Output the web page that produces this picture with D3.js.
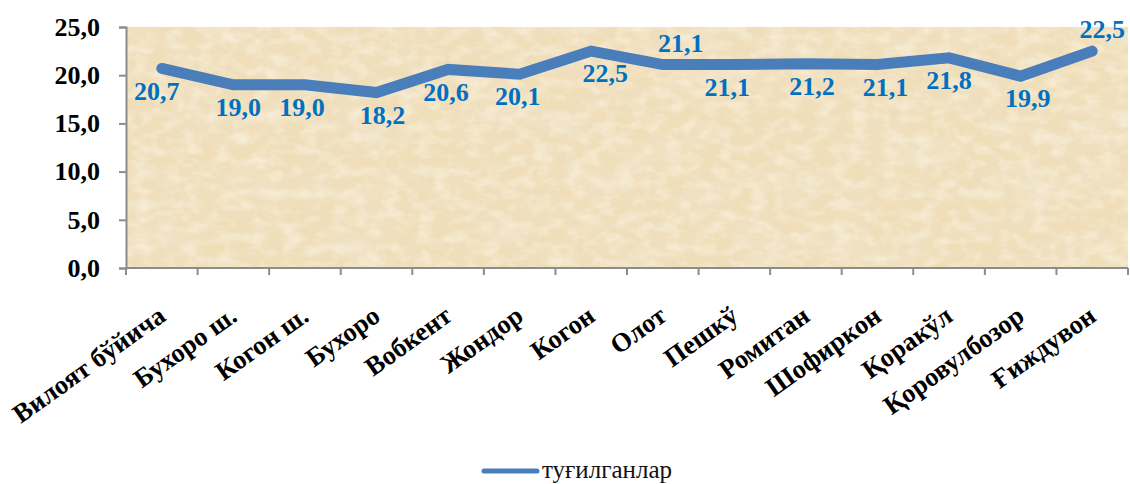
<!DOCTYPE html>
<html>
<head>
<meta charset="utf-8">
<script src="https://cdn.jsdelivr.net/npm/d3@7"></script>
<style>
    body { margin: 0; background: #fff; }
    svg { display: block; }
    .serif { font-family: "Liberation Serif"; }
</style>
</head>
<body>
<svg id="line-chart" width="1130" height="484"></svg>
<script>
// Categories (districts) and series values
const categories = ["Вилоят бўйича", "Бухоро ш.", "Когон ш.", "Бухоро", "Вобкент", "Жондор", "Когон",
                    "Олот", "Пешкў", "Ромитан", "Шофиркон", "Қоракўл", "Қоровулбозор", "Ғиждувон"];
const births = [20.7, 19.0, 19.0, 18.2, 20.6, 20.1, 22.5, 21.1, 21.1, 21.2, 21.1, 21.8, 19.9, 22.5];
const yTicks = [0, 5, 10, 15, 20, 25];
const seriesName = "туғилганлар";
// Where each value label sits relative to its point
const labelSide = ["below", "below", "below", "below", "below", "below", "below",
                   "above", "below", "below", "below", "below", "below", "above"];

// Layout
const plot = { left: 126, right: 1128, top: 27, bottom: 268 };
const labelNudge = [-5, 5, -3, 6, -2, -2, 14, 18, -7, 6, 8, 0, 7, 10];
const lineColor = "#4a7ebb";

const svg = d3.select("#line-chart");

const x = d3.scaleBand()
    .domain(categories)
    .range([plot.left, plot.right]);

const y = d3.scaleLinear()
    .domain([0, 25])
    .range([plot.bottom, plot.top]);

const fmt = v => d3.format(".1f")(v).replace(".", ",");

// Parchment texture for the plot area
const defs = svg.append("defs");
const filter = defs.append("filter")
    .attr("id", "parchment")
    .attr("x", 0).attr("y", 0).attr("width", 1).attr("height", 1);
filter.append("feTurbulence")
    .attr("type", "fractalNoise")
    .attr("baseFrequency", "0.015 0.03")
    .attr("numOctaves", 5)
    .attr("seed", 7)
    .attr("result", "noise");
filter.append("feColorMatrix")
    .attr("in", "noise")
    .attr("type", "matrix")
    .attr("values", "0 0 0 0 0.87  0 0 0 0 0.78  0 0 0 0 0.60  1.4 0 0 0 -0.58")
    .attr("result", "dark");
filter.append("feTurbulence")
    .attr("type", "fractalNoise")
    .attr("baseFrequency", "0.06 0.09")
    .attr("numOctaves", 3)
    .attr("seed", 3)
    .attr("result", "noise2");
filter.append("feColorMatrix")
    .attr("in", "noise2")
    .attr("type", "matrix")
    .attr("values", "0 0 0 0 0.97  0 0 0 0 0.92  0 0 0 0 0.80  0 1.2 0 0 -0.5")
    .attr("result", "light");
filter.append("feFlood").attr("flood-color", "#f0deb9").attr("result", "base");
const merge = filter.append("feMerge");
merge.append("feMergeNode").attr("in", "base");
merge.append("feMergeNode").attr("in", "dark");
merge.append("feMergeNode").attr("in", "light");

svg.append("rect")
    .attr("x", plot.left)
    .attr("y", plot.top)
    .attr("width", plot.right - plot.left)
    .attr("height", plot.bottom - plot.top)
    .attr("fill", "#f0deb9")
    .attr("filter", "url(#parchment)");

// Y axis
svg.append("g")
    .attr("class", "y-axis")
    .attr("transform", `translate(${plot.left},0)`)
    .call(d3.axisLeft(y).tickValues(yTicks).tickFormat(fmt).tickSize(7).tickPadding(19))
    .call(g => g.select(".domain").attr("stroke", "#8c8c8c").attr("stroke-width", 2))
    .call(g => g.selectAll(".tick line").attr("stroke", "#8c8c8c").attr("stroke-width", 2))
    .call(g => g.selectAll("text")
        .attr("class", "serif")
        .style("font-family", "Liberation Serif")
        .style("font-size", "26px")
        .style("font-weight", "bold")
        .attr("fill", "#000"));

// X axis: ticks between categories
const xAxis = svg.append("g")
    .attr("class", "x-axis")
    .attr("transform", `translate(0,${plot.bottom})`);

xAxis.append("line")
    .attr("x1", plot.left).attr("x2", plot.right)
    .attr("stroke", "#8c8c8c").attr("stroke-width", 2);

xAxis.selectAll(".tick-mark")
    .data(categories.concat([null]))
    .enter().append("line")
    .attr("class", "tick-mark")
    .attr("x1", (d, i) => i < categories.length ? x(d) : plot.right)
    .attr("x2", (d, i) => i < categories.length ? x(d) : plot.right)
    .attr("y1", 0).attr("y2", 7)
    .attr("stroke", "#8c8c8c").attr("stroke-width", 2);

xAxis.selectAll(".cat-label")
    .data(categories)
    .enter().append("text")
    .attr("class", "cat-label serif")
    .attr("transform", d => `translate(${x(d) + x.bandwidth() / 2},${44}) rotate(-35.5)`)
    .attr("text-anchor", "end")
    .attr("dy", "0.35em")
    .style("font-family", "Liberation Serif")
    .style("font-size", "26.5px")
    .style("font-weight", "bold")
    .attr("fill", "#000")
    .text(d => d);

// Line
const line = d3.line()
    .x((d, i) => x(categories[i]) + x.bandwidth() / 2)
    .y(d => y(d));

svg.append("path")
    .datum(births)
    .attr("d", line)
    .attr("fill", "none")
    .attr("stroke", lineColor)
    .attr("stroke-width", 11)
    .attr("stroke-linecap", "round")
    .attr("stroke-linejoin", "miter");

// Value labels
svg.selectAll(".value-label")
    .data(births)
    .enter().append("text")
    .attr("class", "value-label serif")
    .attr("x", (d, i) => x(categories[i]) + x.bandwidth() / 2 + labelNudge[i])
    .attr("y", (d, i) => y(d) + (labelSide[i] === "above" ? -22 : 22))
    .attr("dy", "0.35em")
    .attr("text-anchor", "middle")
    .style("font-family", "Liberation Serif")
    .style("font-size", "26px")
    .style("font-weight", "bold")
    .attr("fill", "#0070c0")
    .text(d => fmt(d));

// Legend
const legend = svg.append("g").attr("class", "legend");
legend.append("line")
    .attr("x1", 484).attr("x2", 537)
    .attr("y1", 471).attr("y2", 471)
    .attr("stroke", lineColor)
    .attr("stroke-width", 5)
    .attr("stroke-linecap", "round");
legend.append("text")
    .attr("class", "serif")
    .attr("x", 542)
    .attr("y", 478)
    .style("font-family", "Liberation Serif")
    .style("font-size", "25px")
    .attr("fill", "#111")
    .text(seriesName);
</script>
</body>
</html>
